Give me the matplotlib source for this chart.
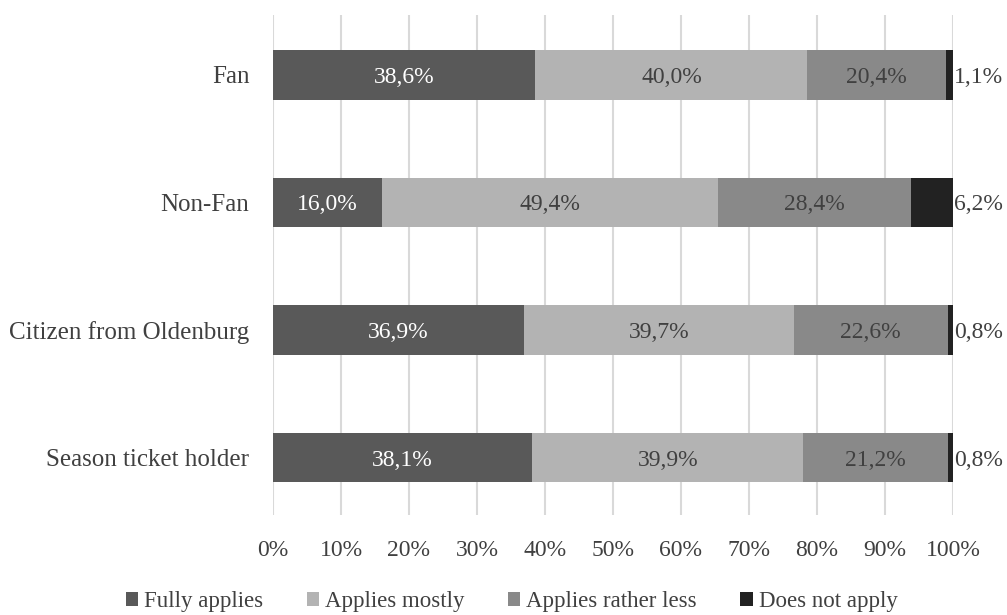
import numpy as np
import matplotlib.pyplot as plt

plt.rcParams['font.family'] = ['Liberation Serif', 'DejaVu Serif']

groups = ['Fan', 'Non-Fan', 'Citizen from Oldenburg', 'Season ticket holder']
series = ['Fully applies', 'Applies mostly', 'Applies rather less', 'Does not apply']
fully = [38.6, 16.0, 36.9, 38.1]
mostly = [40.0, 49.4, 39.7, 39.9]
less = [20.4, 28.4, 22.6, 21.2]
notapply = [1.1, 6.2, 0.8, 0.8]

colors = ['#595959', '#b3b3b3', '#898989', '#222222']
text_cols = ['white', '#404040', '#404040', '#404040']
fs = 17

fig = plt.figure(figsize=(10.07, 6.15), dpi=100)
ax = fig.add_axes([273 / 1007, 1 - 515 / 615, 680 / 1007, 500 / 615])

y = np.arange(len(groups))
left = np.zeros(len(groups))
for i, vals in enumerate([fully, mostly, less, notapply]):
    vals = np.array(vals)
    ax.barh(y, vals, left=left, height=0.39, color=colors[i], label=series[i], zorder=3)
    for j in range(len(groups)):
        txt = f"{vals[j]:.1f}%".replace('.', ',')
        if i == 3:
            # small segments get their label just right of the bar end
            ax.text(100.1, y[j], txt, ha='left', va='center_baseline', fontsize=fs,
                    color='#404040', zorder=4)
        else:
            ax.text(left[j] + vals[j] / 2, y[j], txt, ha='center', va='center_baseline',
                    fontsize=fs, color=text_cols[i], zorder=4)
    left += vals

ax.set_xlim(0, 100)
ax.set_ylim(3.45, -0.47)
ax.set_yticks(y)
ax.set_yticklabels(groups, fontsize=18, color='#404040')
ax.set_xticks(np.arange(0, 101, 10))
ax.set_xticklabels([f"{v}%" for v in range(0, 101, 10)], fontsize=fs, color='#404040')
ax.tick_params(axis='x', length=0, pad=18)
ax.tick_params(axis='y', length=0, pad=17)
ax.grid(axis='x', color='#d9d9d9', linewidth=1.5, zorder=0)
for s in ax.spines.values():
    s.set_visible(False)

handles, labels = ax.get_legend_handles_labels()
fig.legend(handles, labels, loc='center', bbox_to_anchor=(0.508, 0.022), ncol=4, frameon=False,
           fontsize=16.5, handlelength=0.55, handleheight=0.55, handletextpad=0.25,
           columnspacing=1.9, labelcolor='#404040')

fig.savefig('out.png', dpi=100)
